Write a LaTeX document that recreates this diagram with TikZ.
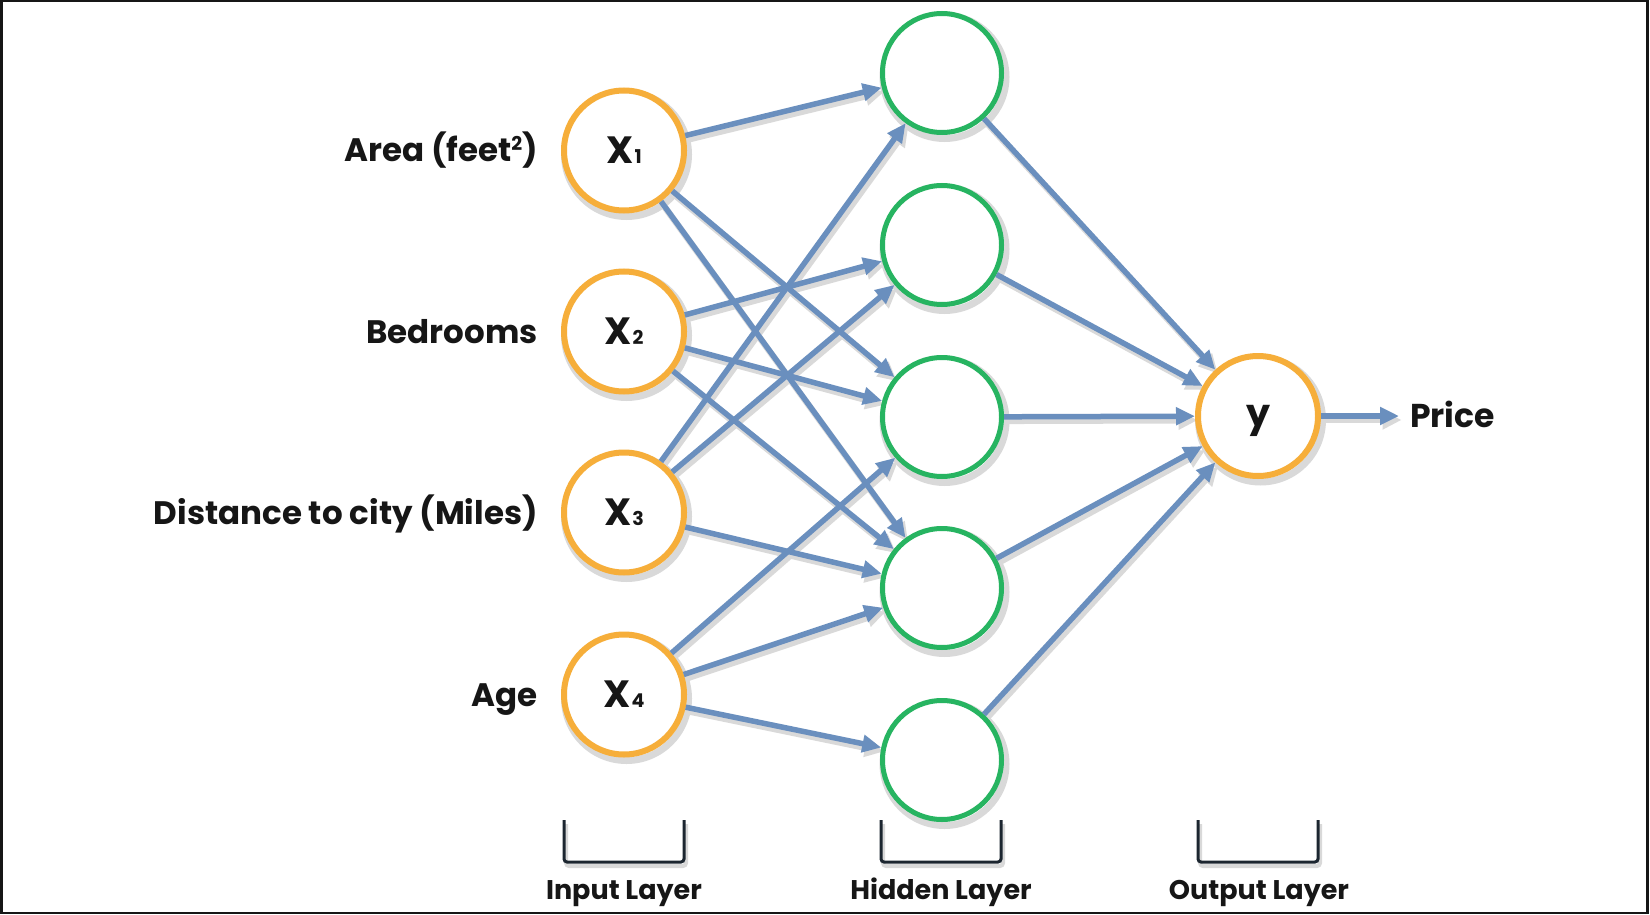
\documentclass[tikz,border=0pt]{standalone}
\usepackage{fontspec}
\setmainfont{Poppins}
\usetikzlibrary{arrows.meta,backgrounds}
\definecolor{inorange}{HTML}{F6AE3A}
\definecolor{hidgreen}{HTML}{27B461}
\definecolor{edgeblue}{HTML}{6A8FBE}
\definecolor{shadowgray}{HTML}{D9D9D9}
\definecolor{inkdark}{HTML}{161616}
\definecolor{bracketdark}{HTML}{1C2630}
\tikzset{
  inode/.style={circle, draw=inorange, line width=6pt, fill=white, minimum size=120pt, inner sep=0pt,
    font=\bfseries\fontsize{38}{38}\selectfont, text=inkdark},
  hnode/.style={circle, draw=hidgreen, line width=5pt, fill=white, minimum size=119pt, inner sep=0pt},
  conn/.style={draw=edgeblue, line width=5.5pt, -{Triangle[length=19pt,width=17pt]}},
  connshadow/.style={draw=shadowgray, line width=6.5pt, -{Triangle[length=19pt,width=18pt]},
    transform canvas={shift={(2.5,4)}}},
  ringshadow/.style={draw=shadowgray, line width=7pt},
  featlbl/.style={anchor=base east, inner sep=0pt, font=\bfseries\fontsize{32.5}{32.5}\selectfont, text=inkdark},
  layerlbl/.style={anchor=base, inner sep=0pt, font=\bfseries\fontsize{27}{27}\selectfont, text=inkdark},
  bracketline/.style={draw=bracketdark, line width=3pt, rounded corners=3pt},
  bracketshadow/.style={draw=shadowgray, line width=4pt, rounded corners=3pt, transform canvas={shift={(2,4)}}},
}
\newcommand{\xsub}[1]{X\kern1pt{\fontsize{19}{19}\selectfont #1}}
\begin{document}
\begin{tikzpicture}[x=1pt,y=-1pt]
\useasboundingbox (0,0) rectangle (1650,915);

% input nodes
\node[inode] (X1) at (624,150.5) {\xsub{1}};
\node[inode] (X2) at (624,331.5) {\xsub{2}};
\node[inode] (X3) at (624,512.5) {\xsub{3}};
\node[inode] (X4) at (624,694.5) {\xsub{4}};
% hidden nodes
\node[hnode] (H1) at (942,73) {};
\node[hnode] (H2) at (942,245) {};
\node[hnode] (H3) at (942,417) {};
\node[hnode] (H4) at (942,588) {};
\node[hnode] (H5) at (942,760) {};
% output node
\node[inode] (Y) at (1258,416) {\smash{\raisebox{-10pt}{y}}};
\coordinate (Pend) at (1399,416);

% feature labels
\node[featlbl] (L1) at (538,162) {Area (feet\raisebox{0.62ex}{\fontsize{19}{19}\selectfont 2})};
\node[featlbl] (L2) at (538,343) {Bedrooms};
\node[featlbl] (L3) at (538,524) {Distance to city (Miles)};
\node[featlbl] (L4) at (538,706) {Age};
\node[featlbl, anchor=base west, font=\bfseries\fontsize{33}{33}\selectfont] (P) at (1410,427) {Price};

% layer labels
\node[layerlbl] (LI) at (624,899) {Input Layer};
\node[layerlbl] (LH) at (941,899) {Hidden Layer};
\node[layerlbl] (LO) at (1259,899) {Output Layer};

% white page and shadows
\begin{scope}[on background layer]
  \fill[white] (0,0) rectangle (1650,915);
  \foreach \n/\r in {X1/62,X2/62,X3/62,X4/62,Y/62,H1/61.5,H2/61.5,H3/61.5,H4/61.5,H5/61.5}{
    \draw[ringshadow] ([shift={(2.5,4)}]\n.center) circle (\r);
  }
  \foreach \a/\b in {X1/H1,X1/H3,X1/H4,X2/H2,X2/H3,X2/H4,X3/H1,X3/H2,X3/H4,X4/H3,X4/H4,X4/H5,
                     H1/Y,H2/Y,H3/Y,H4/Y,H5/Y}{
    \draw[connshadow] (\a) -- (\b);
  }
  \draw[connshadow] (Y) -- (Pend);
  \foreach \xa/\xb in {564/684,881/1001,1198/1318}{
    \draw[bracketshadow] (\xa,820) -- (\xa,862) -- (\xb,862) -- (\xb,820);
  }
\end{scope}

% frame
\draw[inkdark, line width=2.5pt] (1.25,1.25) rectangle (1647.5,913);

% connectors
\foreach \a/\b in {X1/H1,X1/H3,X1/H4,X2/H2,X2/H3,X2/H4,X3/H1,X3/H2,X3/H4,X4/H3,X4/H4,X4/H5,
                   H1/Y,H2/Y,H3/Y,H4/Y,H5/Y}{
  \draw[conn] (\a) -- (\b);
}
\draw[conn] (Y) -- (Pend);

% layer brackets
\foreach \xa/\xb in {564/684,881/1001,1198/1318}{
  \draw[bracketline] (\xa,820) -- (\xa,862) -- (\xb,862) -- (\xb,820);
}
\end{tikzpicture}
\end{document}
